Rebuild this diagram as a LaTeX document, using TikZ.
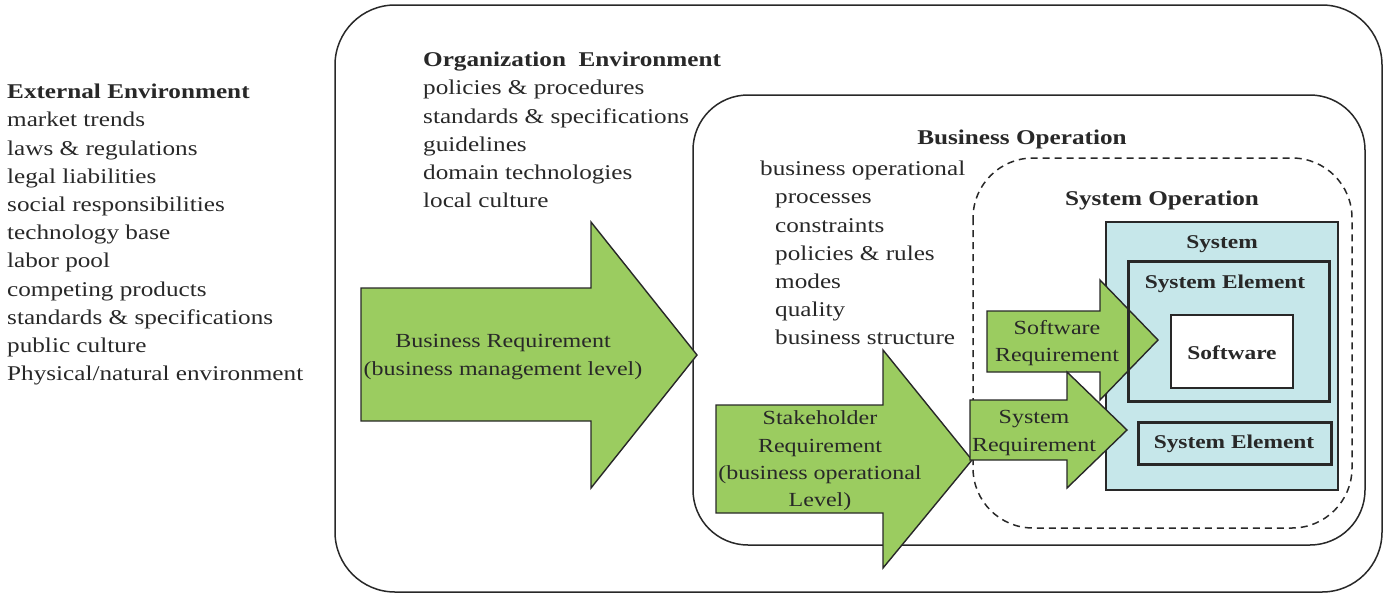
\documentclass[tikz,border=0pt]{standalone}
\usepackage{fontspec}
\setmainfont{Liberation Serif}[FakeStretch=1.2]
\definecolor{arrowgreen}{RGB}{155,204,96}
\definecolor{sysblue}{RGB}{198,231,234}
\definecolor{ink}{RGB}{40,40,40}
\begin{document}
\begin{tikzpicture}[x=1pt,y=-1pt,
  txt/.style={inner sep=0pt, anchor=north west, align=left, font=\fontsize{21}{28.2}\selectfont, text=ink},
  head/.style={inner sep=0pt, font=\fontsize{21}{28.2}\selectfont\bfseries, text=ink},
  intxt/.style={inner sep=0pt, align=center, font=\fontsize{20}{27.3}\selectfont, text=ink},
  region/.style={draw=ink, line width=1.5pt, rounded corners=60pt},
  garrow/.style={draw=ink, line width=1.4pt, fill=arrowgreen, line join=miter},
  sysbox/.style={draw=ink, line width=1.4pt, fill=sysblue, inner sep=0pt, outer sep=0pt},
  elbox/.style={draw=ink, line width=3pt, inner sep=0pt, outer sep=0pt},
  boxlabel/.style={inner sep=0pt, font=\fontsize{19.5}{24}\selectfont\bfseries, text=ink}]
\useasboundingbox (0,0) rectangle (1385,595);
% regions
\draw[region] (335,5) rectangle (1382,592);
\draw[region,rounded corners=55pt] (693,95) rectangle (1365,545);
\draw[region,dashed,dash pattern=on 7pt off 5pt,rounded corners=60pt] (973,158) rectangle (1352,528);
% system boxes
\node[sysbox, anchor=north west, minimum width=232pt, minimum height=268pt] (sys) at (1106,222) {};
\node[elbox, anchor=north west, minimum width=201pt, minimum height=140pt] (el1) at (1128,261) {};
\node[draw=ink, line width=1.5pt, fill=white, outer sep=0pt, anchor=north west, minimum width=122pt, minimum height=73pt] (sw) at (1171,315) {};
\node[elbox, anchor=north west, minimum width=193pt, minimum height=42pt] (el2) at (1138,422) {};
\node[boxlabel] (syslab) at (1222,244) {System};
\node[boxlabel] (el1lab) at (1225,284) {System Element};
\node[boxlabel] (swlab) at (1232,353) {Software};
\node[boxlabel] (el2lab) at (1234,444) {System Element};
% texts
\node[txt] (ext) at (7,84) {\textbf{External Environment}\\market trends\\laws \& regulations\\legal liabilities\\social responsibilities\\technology base\\labor pool\\competing products\\standards \& specifications\\public culture\\Physical/natural environment};
\node[txt] (org) at (423,52) {\textbf{Organization\ \ Environment}\\policies \& procedures\\standards \& specifications\\guidelines\\domain technologies\\local culture};
\node[head] (bo) at (1022,139) {Business Operation};
\node[txt] (bol) at (760,161) {business operational\\\hspace*{15pt}processes\\\hspace*{15pt}constraints\\\hspace*{15pt}policies \& rules\\\hspace*{15pt}modes\\\hspace*{15pt}quality\\\hspace*{15pt}business structure};
\node[head] (so) at (1162,200) {System Operation};
% arrows
\draw[garrow] (361,288) -- (591,288) -- (591,222) -- (697,355) -- (591,488) -- (591,421) -- (361,421) -- cycle;
\node[intxt] (br) at (503,357) {Business Requirement\\(business management level)};
\draw[garrow] (716,405) -- (883,405) -- (883,350) -- (972,460) -- (883,568) -- (883,513) -- (716,513) -- cycle;
\node[intxt] (sh) at (820,461) {Stakeholder\\Requirement\\(business operational\\Level)};
\draw[garrow] (987,311) -- (1100,311) -- (1100,280) -- (1158,340) -- (1100,400) -- (1100,372) -- (987,372) -- cycle;
\node[intxt] (swr) at (1057,343) {Software\\Requirement};
\draw[garrow] (970,400) -- (1067,400) -- (1067,372) -- (1127,430) -- (1067,488) -- (1067,460) -- (970,460) -- cycle;
\node[intxt] (syr) at (1034,433) {System\\Requirement};
% element border drawn over the software arrow head
\draw[draw=ink, line width=3pt] (el1.north west) rectangle (el1.south east);
\end{tikzpicture}
\end{document}
